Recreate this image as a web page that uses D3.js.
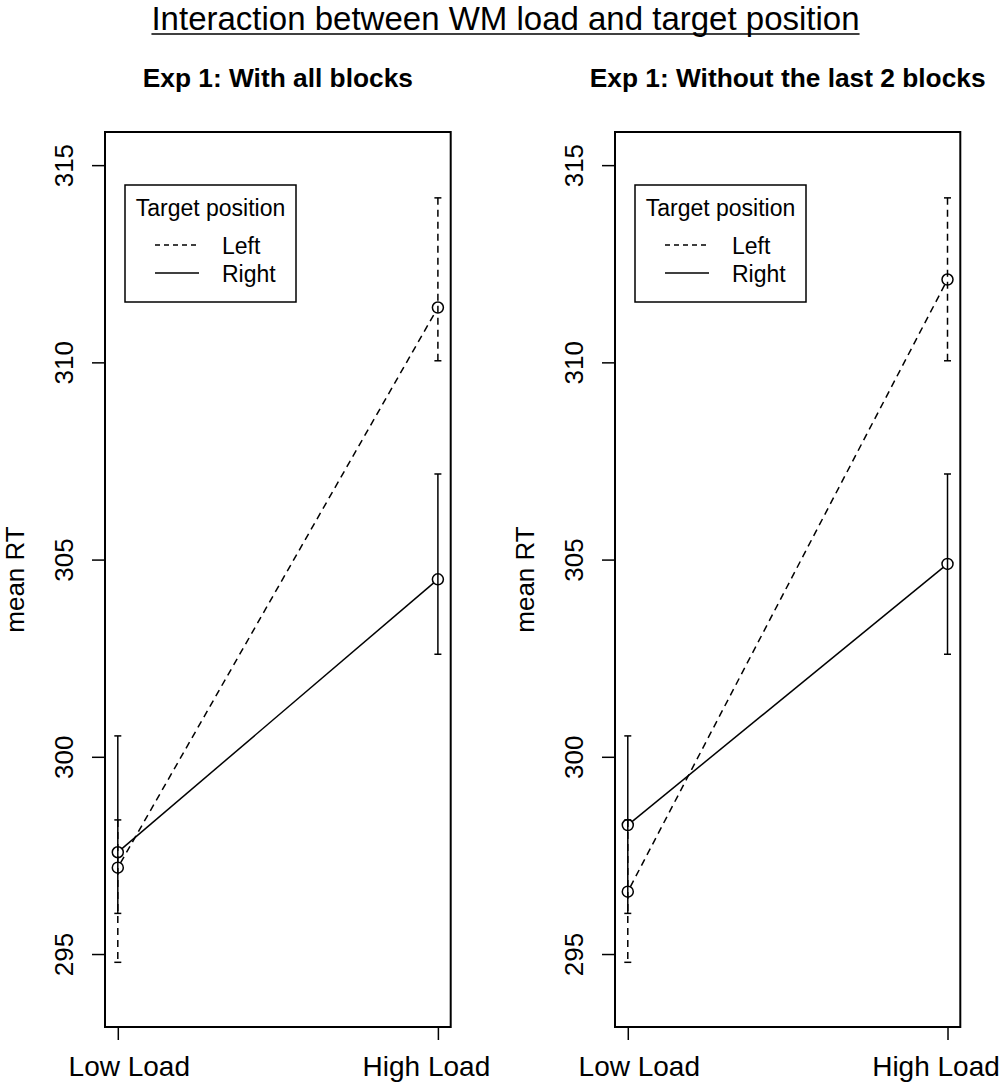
<!DOCTYPE html>
<html lang="en">
<head>
<meta charset="UTF-8">
<title>Interaction between WM load and target position</title>
<script src="https://cdn.jsdelivr.net/npm/d3@7"></script>
<style>
  body { margin: 0; background: #fff; }
  text { font-family: "Liberation Sans", Arial, sans-serif; fill: #000; }
</style>
</head>
<body>
<script>
// data
var categories = ["Low Load", "High Load"];
var panelTitles = ["Exp 1: With all blocks", "Exp 1: Without the last 2 blocks"];
var yTicks = [295, 300, 305, 310, 315];

// means, panel 1 (all blocks)
var leftMeanAll = [297.19, 311.39];
var rightMeanAll = [297.58, 304.50];
// means, panel 2 (without last 2 blocks)
var leftMeanWo = [296.58, 312.10];
var rightMeanWo = [298.27, 304.89];

// error bars (same in both panels in the figure)
var leftUpper = [298.40, 314.17];
var leftLower = [294.79, 310.04];
var rightUpper = [300.53, 307.17];
var rightLower = [296.03, 302.60];

var legendTitle = "Target position";
var legendLabels = ["Left", "Right"];

var width = 1000, height = 1083;
var svg = d3.select("body").append("svg")
  .attr("width", width)
  .attr("height", height);

// main title, underlined
var title = svg.append("text")
  .attr("x", 505.5).attr("y", 29.5)
  .attr("text-anchor", "middle")
  .style("font-size", "33px")
  .text("Interaction between WM load and target position");
var tb = title.node().getBBox();
svg.append("line")
  .attr("x1", tb.x).attr("x2", tb.x + tb.width)
  .attr("y1", 34).attr("y2", 34)
  .attr("stroke", "#000").attr("stroke-width", 1.5);

var panels = [
  { left: 105, right: 450.7, title: panelTitles[0], lm: leftMeanAll, rm: rightMeanAll },
  { left: 615, right: 960.3, title: panelTitles[1], lm: leftMeanWo, rm: rightMeanWo }
];
var plotTop = 132, plotBottom = 1027;
var dash = "7,5";
var r = 5.5;

var yScale = d3.scaleLinear().domain([293.15, 315.84]).range([plotBottom, plotTop]);

panels.forEach(function(p) {
  var xScale = d3.scaleLinear().domain([0.96, 2.04]).range([p.left, p.right]);
  var g = svg.append("g");

  // panel title
  g.append("text")
    .attr("x", (p.left + p.right) / 2).attr("y", 87)
    .attr("text-anchor", "middle")
    .style("font-size", "26.3px").style("font-weight", "bold")
    .text(p.title);

  // y axis
  var yAxis = d3.axisLeft(yScale).tickValues(yTicks).tickSize(13).tickFormat(d3.format("d"));
  var ya = g.append("g")
    .attr("transform", "translate(" + p.left + ",0)")
    .call(yAxis);
  ya.select(".domain").remove();
  ya.selectAll(".tick line").attr("stroke-width", 1.5);
  ya.selectAll(".tick text")
    .attr("x", null).attr("dy", null)
    .attr("transform", "translate(-32,0) rotate(-90)")
    .attr("text-anchor", "middle")
    .style("font-size", "26px")
    .style("font-family", "Liberation Sans, Arial, sans-serif");

  // x axis (labels sit a little inward of their ticks, as in the figure)
  var xAxis = d3.axisBottom(xScale).tickValues([1, 2]).tickSize(13)
    .tickFormat(function(d) { return categories[d - 1]; });
  var xa = g.append("g")
    .attr("transform", "translate(0," + plotBottom + ")")
    .call(xAxis);
  xa.select(".domain").remove();
  xa.selectAll(".tick line").attr("stroke-width", 1.5);
  xa.selectAll(".tick text")
    .attr("dy", null).attr("y", 49)
    .attr("x", function(d) { return d === 1 ? 11 : -12; })
    .style("font-size", "28px")
    .style("font-family", "Liberation Sans, Arial, sans-serif");

  // y label
  g.append("text")
    .attr("transform", "translate(" + (p.left - 81) + "," + ((plotTop + plotBottom) / 2) + ") rotate(-90)")
    .attr("text-anchor", "middle")
    .style("font-size", "26px")
    .text("mean RT");

  // box
  g.append("rect")
    .attr("x", p.left).attr("y", plotTop)
    .attr("width", p.right - p.left).attr("height", plotBottom - plotTop)
    .attr("fill", "none").attr("stroke", "#000").attr("stroke-width", 2);

  var series = [
    { mean: p.lm, up: leftUpper, lo: leftLower, dash: dash },
    { mean: p.rm, up: rightUpper, lo: rightLower, dash: null }
  ];

  series.forEach(function(s) {
    // error bars
    [0, 1].forEach(function(i) {
      var x = xScale(i + 1);
      g.append("line")
        .attr("x1", x).attr("x2", x)
        .attr("y1", yScale(s.up[i])).attr("y2", yScale(s.lo[i]))
        .attr("stroke", "#000").attr("stroke-width", 1.5)
        .attr("stroke-dasharray", s.dash);
      [s.up[i], s.lo[i]].forEach(function(v) {
        g.append("line")
          .attr("x1", x - 3.5).attr("x2", x + 3.5)
          .attr("y1", yScale(v)).attr("y2", yScale(v))
          .attr("stroke", "#000").attr("stroke-width", 1.5);
      });
    });

    // connecting line, with gaps round the points
    var x1 = xScale(1), y1 = yScale(s.mean[0]);
    var x2 = xScale(2), y2 = yScale(s.mean[1]);
    var len = Math.sqrt((x2 - x1) * (x2 - x1) + (y2 - y1) * (y2 - y1));
    var ux = (x2 - x1) / len, uy = (y2 - y1) / len;
    g.append("line")
      .attr("x1", x1 + ux * r).attr("y1", y1 + uy * r)
      .attr("x2", x2 - ux * r).attr("y2", y2 - uy * r)
      .attr("stroke", "#000").attr("stroke-width", 1.5)
      .attr("stroke-dasharray", s.dash);

    // points
    g.selectAll(null).data(s.mean).enter().append("circle")
      .attr("cx", function(d, i) { return xScale(i + 1); })
      .attr("cy", function(d) { return yScale(d); })
      .attr("r", r)
      .attr("fill", "none").attr("stroke", "#000").attr("stroke-width", 1.5);
  });

  // legend
  var lx = p.left + 20, ly = 185;
  var leg = g.append("g").attr("transform", "translate(" + lx + "," + ly + ")");
  leg.append("rect")
    .attr("width", 171).attr("height", 117)
    .attr("fill", "#fff").attr("stroke", "#000").attr("stroke-width", 1.5);
  leg.append("text")
    .attr("x", 85.5).attr("y", 31)
    .attr("text-anchor", "middle")
    .style("font-size", "23px")
    .text(legendTitle);
  legendLabels.forEach(function(lab, i) {
    var yy = 60 + i * 28;
    leg.append("line")
      .attr("x1", 30).attr("x2", 74)
      .attr("y1", yy).attr("y2", yy)
      .attr("stroke", "#000").attr("stroke-width", 1.5)
      .attr("stroke-dasharray", i === 0 ? "5,4" : null);
    leg.append("text")
      .attr("x", 97).attr("y", yy + 9)
      .style("font-size", "23px")
      .text(lab);
  });
});
</script>
</body>
</html>
